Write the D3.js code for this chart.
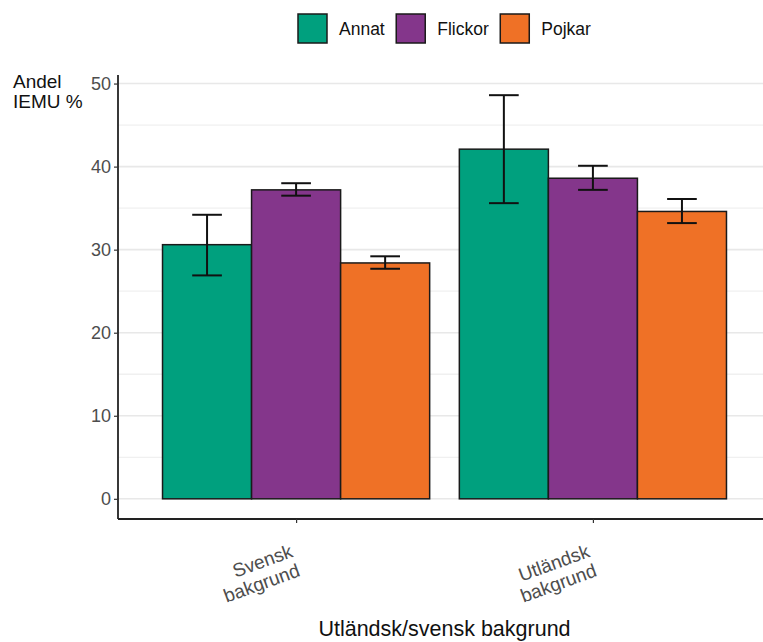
<!DOCTYPE html>
<html>
<head>
<meta charset="utf-8">
<script src="https://cdn.jsdelivr.net/npm/d3@7"></script>
<style>
  body { margin: 0; background: #fff; }
  text { font-family: "Liberation Sans", Arial, sans-serif; }
</style>
</head>
<body>
<div id="chart"></div>
<script>
// Andel IEMU % per bakgrund och kön, med felstaplar
const groups = ['Svensk\nbakgrund', 'Utländsk\nbakgrund'];
const series = ['Annat', 'Flickor', 'Pojkar'];
const colors = ['#00a07e', '#84368b', '#ef7126'];

const annat   = [30.6, 42.1];
const flickor = [37.2, 38.6];
const pojkar  = [28.4, 34.6];

const annatLow    = [26.9, 35.6];
const annatHigh   = [34.2, 48.6];
const flickorLow  = [36.5, 37.2];
const flickorHigh = [38.0, 40.1];
const pojkarLow   = [27.7, 33.2];
const pojkarHigh  = [29.2, 36.1];

const yTicks = [0, 10, 20, 30, 40, 50];
const yMinor = [5, 15, 25, 35, 45];

const values = [annat, flickor, pojkar];
const lows   = [annatLow, flickorLow, pojkarLow];
const highs  = [annatHigh, flickorHigh, pojkarHigh];

const W = 763, H = 642;
const svg = d3.select('#chart').append('svg')
  .attr('width', W).attr('height', H);

// panel runs past the right edge, like the cropped original
const x = d3.scaleLinear().domain([0.4, groups.length + 0.6]).range([118, 771]);
const y = d3.scaleLinear().domain([-2.43, 51.03]).range([519, 75]);
const sub = d3.scaleBand().domain(series).range([-0.45, 0.45]);

const panel = svg.append('g');

// grid
panel.selectAll('line.minor').data(yMinor).join('line')
  .attr('x1', 118).attr('x2', W)
  .attr('y1', d => y(d)).attr('y2', d => y(d))
  .attr('stroke', '#f0f0f0').attr('stroke-width', 1.3);
panel.selectAll('line.major').data(yTicks).join('line')
  .attr('x1', 118).attr('x2', W)
  .attr('y1', d => y(d)).attr('y2', d => y(d))
  .attr('stroke', '#e8e8e8').attr('stroke-width', 1.6);

const rows = [];
groups.forEach((g, gi) => series.forEach((s, si) => rows.push({
  gi, si, v: values[si][gi], lo: lows[si][gi], hi: highs[si][gi]
})));

const barX = d => x(d.gi + 1 + sub(series[d.si]));
const bw = x(1 + sub.bandwidth()) - x(1);

panel.selectAll('rect.bar').data(rows).join('rect')
  .attr('x', barX)
  .attr('y', d => y(d.v))
  .attr('width', bw)
  .attr('height', d => y(0) - y(d.v))
  .attr('fill', d => colors[d.si])
  .attr('stroke', '#1a1a1a').attr('stroke-width', 1.5);

// error bars
const cap = bw / 3;
const eb = panel.selectAll('g.err').data(rows).join('g')
  .attr('stroke', '#111').attr('stroke-width', 2).attr('fill', 'none');
eb.append('line')
  .attr('x1', d => barX(d) + bw / 2).attr('x2', d => barX(d) + bw / 2)
  .attr('y1', d => y(d.lo)).attr('y2', d => y(d.hi));
eb.append('line')
  .attr('x1', d => barX(d) + bw / 2 - cap / 2).attr('x2', d => barX(d) + bw / 2 + cap / 2)
  .attr('y1', d => y(d.lo)).attr('y2', d => y(d.lo));
eb.append('line')
  .attr('x1', d => barX(d) + bw / 2 - cap / 2).attr('x2', d => barX(d) + bw / 2 + cap / 2)
  .attr('y1', d => y(d.hi)).attr('y2', d => y(d.hi));

// y axis
const yAxis = svg.append('g').attr('transform', 'translate(118,0)')
  .call(d3.axisLeft(y).tickValues(yTicks).tickSize(4).tickPadding(3));
yAxis.select('.domain').attr('stroke', '#222').attr('stroke-width', 1.8)
  .attr('d', `M0,${y.range()[1]}V${y.range()[0]}`);
yAxis.selectAll('.tick line').attr('stroke', '#333').attr('stroke-width', 1.2);
yAxis.selectAll('.tick text').attr('fill', '#4d4d4d').attr('font-size', 18)
  .attr('font-family', '"Liberation Sans", Arial, sans-serif');

// x axis
const xAxis = svg.append('g').attr('transform', 'translate(0,519)')
  .call(d3.axisBottom(x).tickValues(groups.map((g, i) => i + 1)).tickSize(4).tickFormat(''));
xAxis.select('.domain').attr('stroke', '#222').attr('stroke-width', 1.8)
  .attr('d', `M118,0H${W}`);
xAxis.selectAll('.tick line').attr('stroke', '#333').attr('stroke-width', 1.2);

const xl = svg.append('g').selectAll('g').data(groups).join('g')
  .attr('transform', (d, i) => `translate(${x(i + 1)},527) rotate(-20)`);
xl.each(function(d) {
  const t = d3.select(this).append('text')
    .attr('text-anchor', 'end').attr('fill', '#4d4d4d').attr('font-size', 19);
  d.split('\n').forEach((line, k) => {
    t.append('tspan').attr('x', -12).attr('y', 27 + k * 20.5).text(line);
  });
});

// titles
svg.append('text').attr('x', 444.5).attr('y', 636)
  .attr('text-anchor', 'middle').attr('font-size', 21.5).attr('fill', '#111')
  .text('Utländsk/svensk bakgrund');

const yt = svg.append('text').attr('font-size', 19).attr('fill', '#111');
yt.append('tspan').attr('x', 13).attr('y', 88).text('Andel');
yt.append('tspan').attr('x', 13).attr('y', 108).text('IEMU %');

// legend
const leg = svg.append('g');
let lx = 298;
series.forEach((s, i) => {
  leg.append('rect').attr('x', lx).attr('y', 14).attr('width', 29).attr('height', 29)
    .attr('fill', colors[i]).attr('stroke', '#1a1a1a').attr('stroke-width', 1.5);
  const t = leg.append('text').attr('x', lx + 41).attr('y', 35)
    .attr('font-size', 17.5).attr('fill', '#111').text(s);
  lx += 41 + t.node().getComputedTextLength() + 11.5;
});
</script>
</body>
</html>
